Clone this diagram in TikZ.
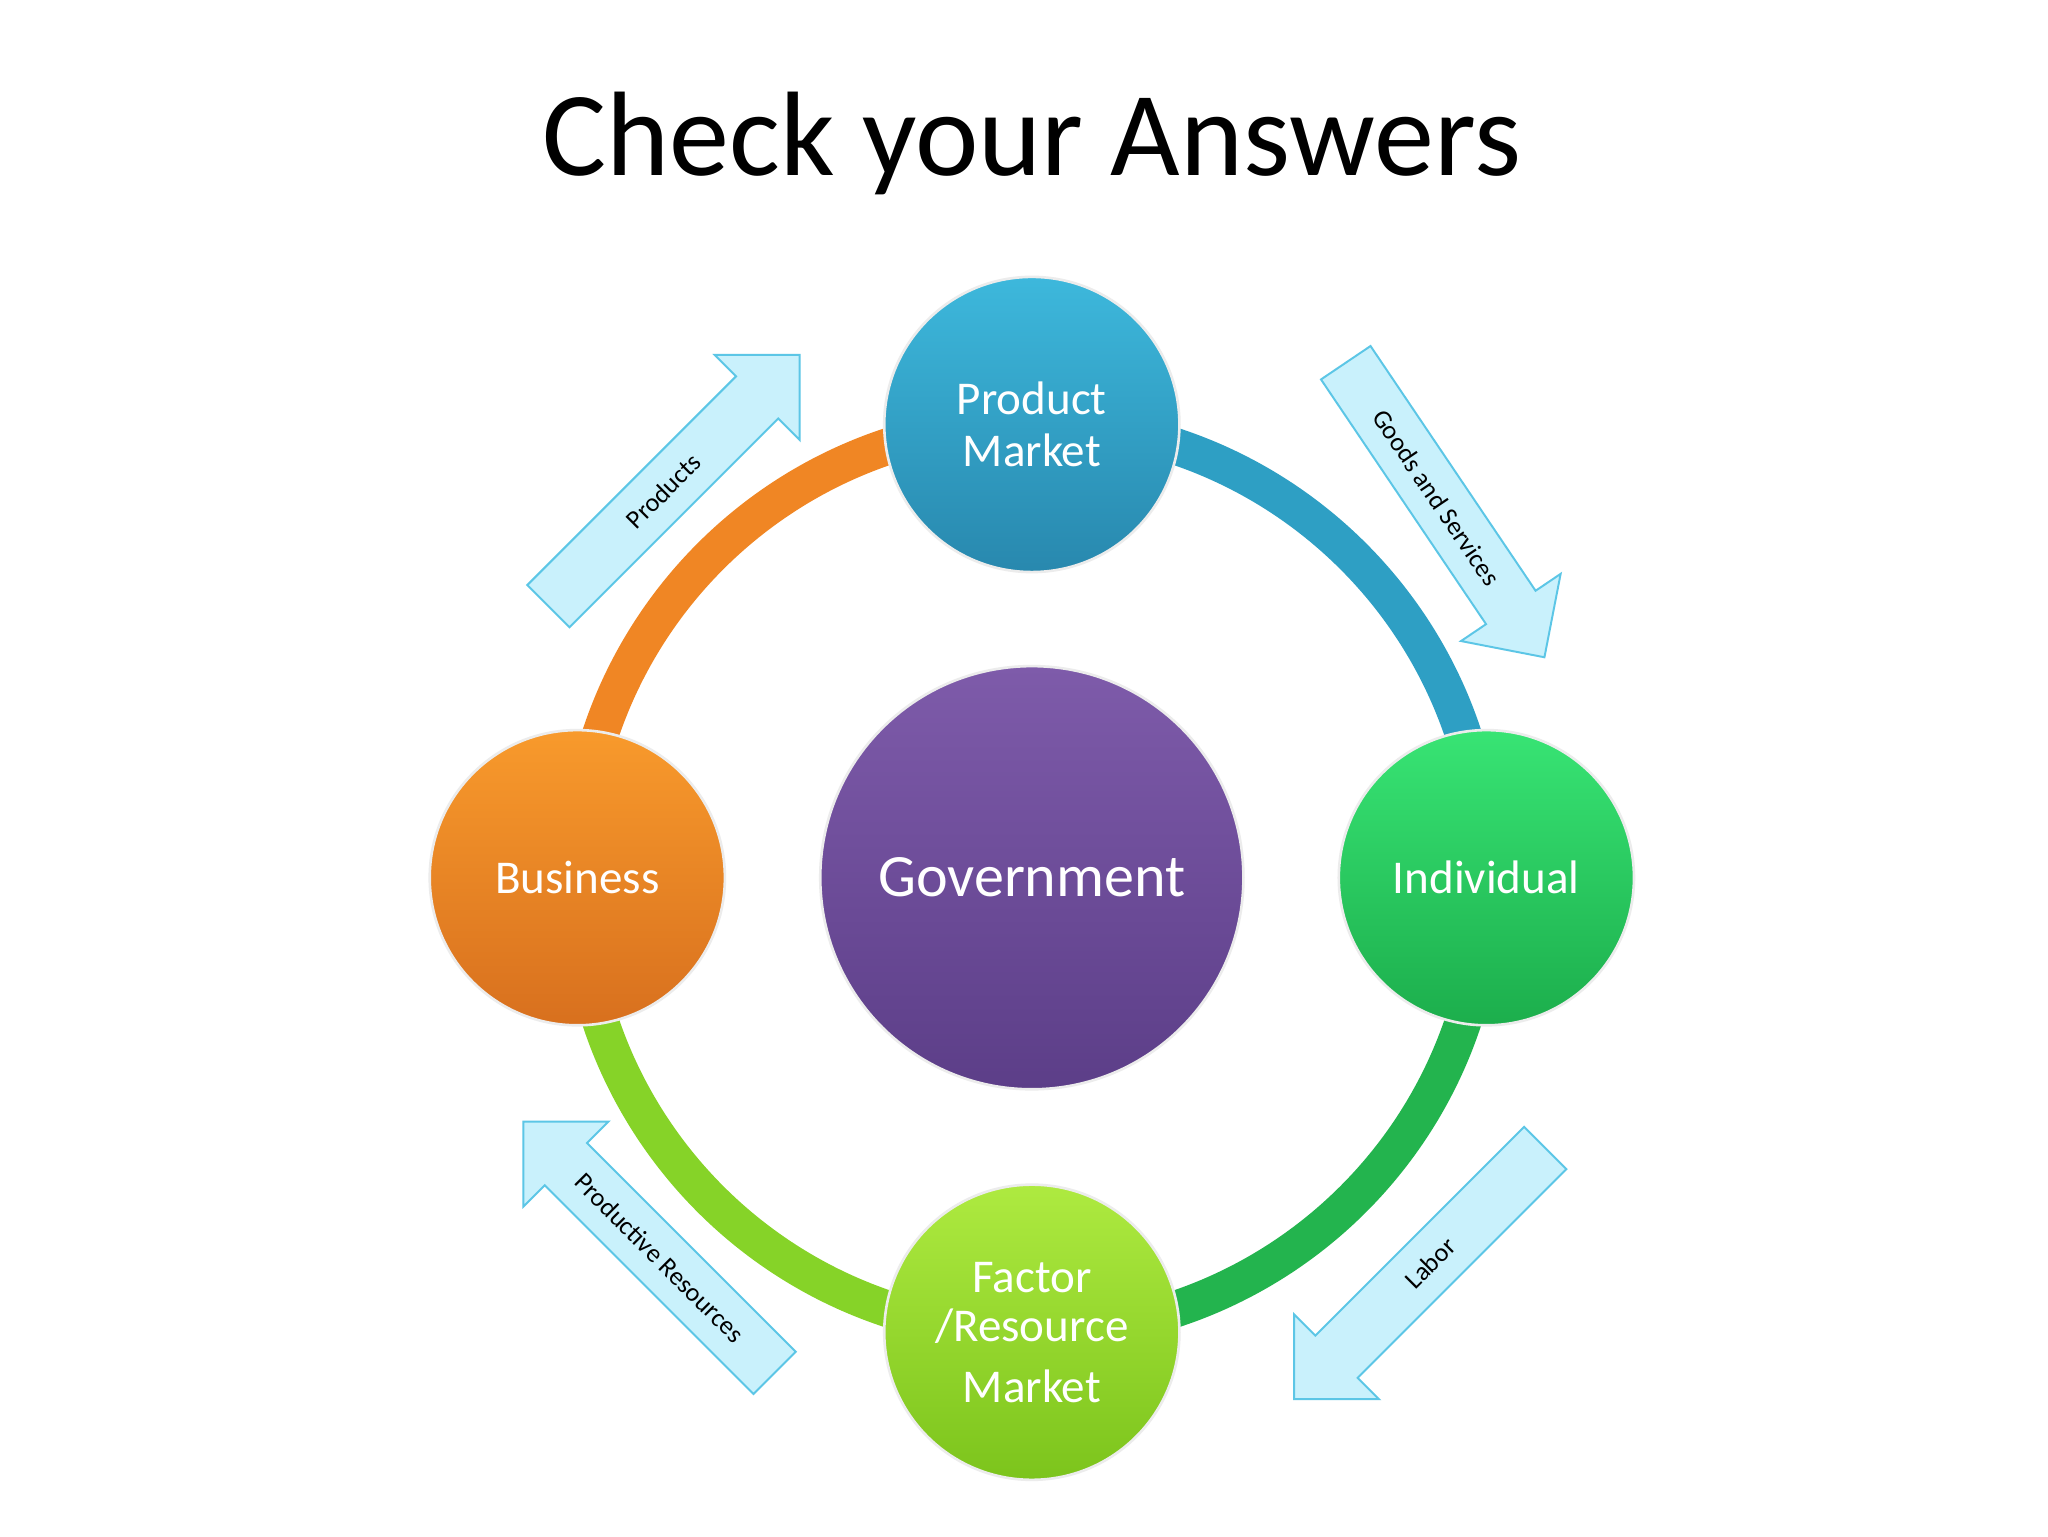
\documentclass[tikz,border=0pt]{standalone}
\usepackage{fontspec}
\setmainfont{Carlito}
\usetikzlibrary{shapes.arrows}
\definecolor{pmA}{HTML}{3DB8DC}\definecolor{pmB}{HTML}{2888AE}
\definecolor{buA}{HTML}{F89A2C}\definecolor{buB}{HTML}{D8701E}
\definecolor{inA}{HTML}{38E474}\definecolor{inB}{HTML}{1CAE4C}
\definecolor{faA}{HTML}{AEEA40}\definecolor{faB}{HTML}{7CC41C}
\definecolor{goA}{HTML}{7E5BAA}\definecolor{goB}{HTML}{5C3E88}
\definecolor{arF}{HTML}{C9F1FC}\definecolor{arD}{HTML}{5CC6E6}
\definecolor{rBlue}{HTML}{2E9FC4}\definecolor{rGreen}{HTML}{23B44E}
\definecolor{rLime}{HTML}{86D328}\definecolor{rOrange}{HTML}{F08624}
\tikzset{
 ball/.style={circle,minimum size=226pt,draw=white!85!gray,line width=2pt,text=white,
   font=\fontsize{36}{40}\selectfont,align=center,inner sep=0pt},
 flow/.style={single arrow,draw=arD,line width=1.5pt,fill=arF,minimum height=272pt,
   minimum width=92pt,single arrow head extend=20pt,inner xsep=8pt,inner ysep=12pt,
   font=\fontsize{20}{22}\selectfont,text=black},
 ring/.style={line width=28pt}
}
\begin{document}
\begin{tikzpicture}[x=1pt,y=1pt]
\useasboundingbox (0,0) rectangle (1568,1176);
\fill[white] (0,0) rectangle (1568,1176);
\node (title) at (790,1066) {\fontsize{92}{100}\selectfont Check your Answers};
\coordinate (c) at (790,504);
\draw[ring,rBlue] (c) ++(90:348) arc (90:0:348);
\draw[ring,rGreen] (c) ++(0:348) arc (0:-90:348);
\draw[ring,rLime] (c) ++(-90:348) arc (-90:-180:348);
\draw[ring,rOrange] (c) ++(180:348) arc (180:90:348);
\node[ball,top color=pmA,bottom color=pmB] (pm) at (790,851) {Product\\Market};
\node[ball,top color=buA,bottom color=buB] (bu) at (442,504) {Business};
\node[ball,top color=inA,bottom color=inB] (in) at (1138,504) {Individual};
\node[ball,top color=faA,bottom color=faB] (fa) at (790,156) {Factor\\[-2pt]/Resource\\[6pt]Market};
\node[ball,minimum size=324pt,top color=goA,bottom color=goB,font=\fontsize{46}{50}\selectfont] (go) at (c) {Government};
\node[flow,rotate=45] (a1) at (508,800) {Products};
\node[flow,rotate=-56] (a2) at (1100,795) {Goods and Services};
\node[flow,rotate=45,shape border rotate=180] (a3) at (1095,209) {Labor};
\node[flow,rotate=-45,shape border rotate=180] (a4) at (505,213) {Productive Resources};
\end{tikzpicture}
\end{document}
